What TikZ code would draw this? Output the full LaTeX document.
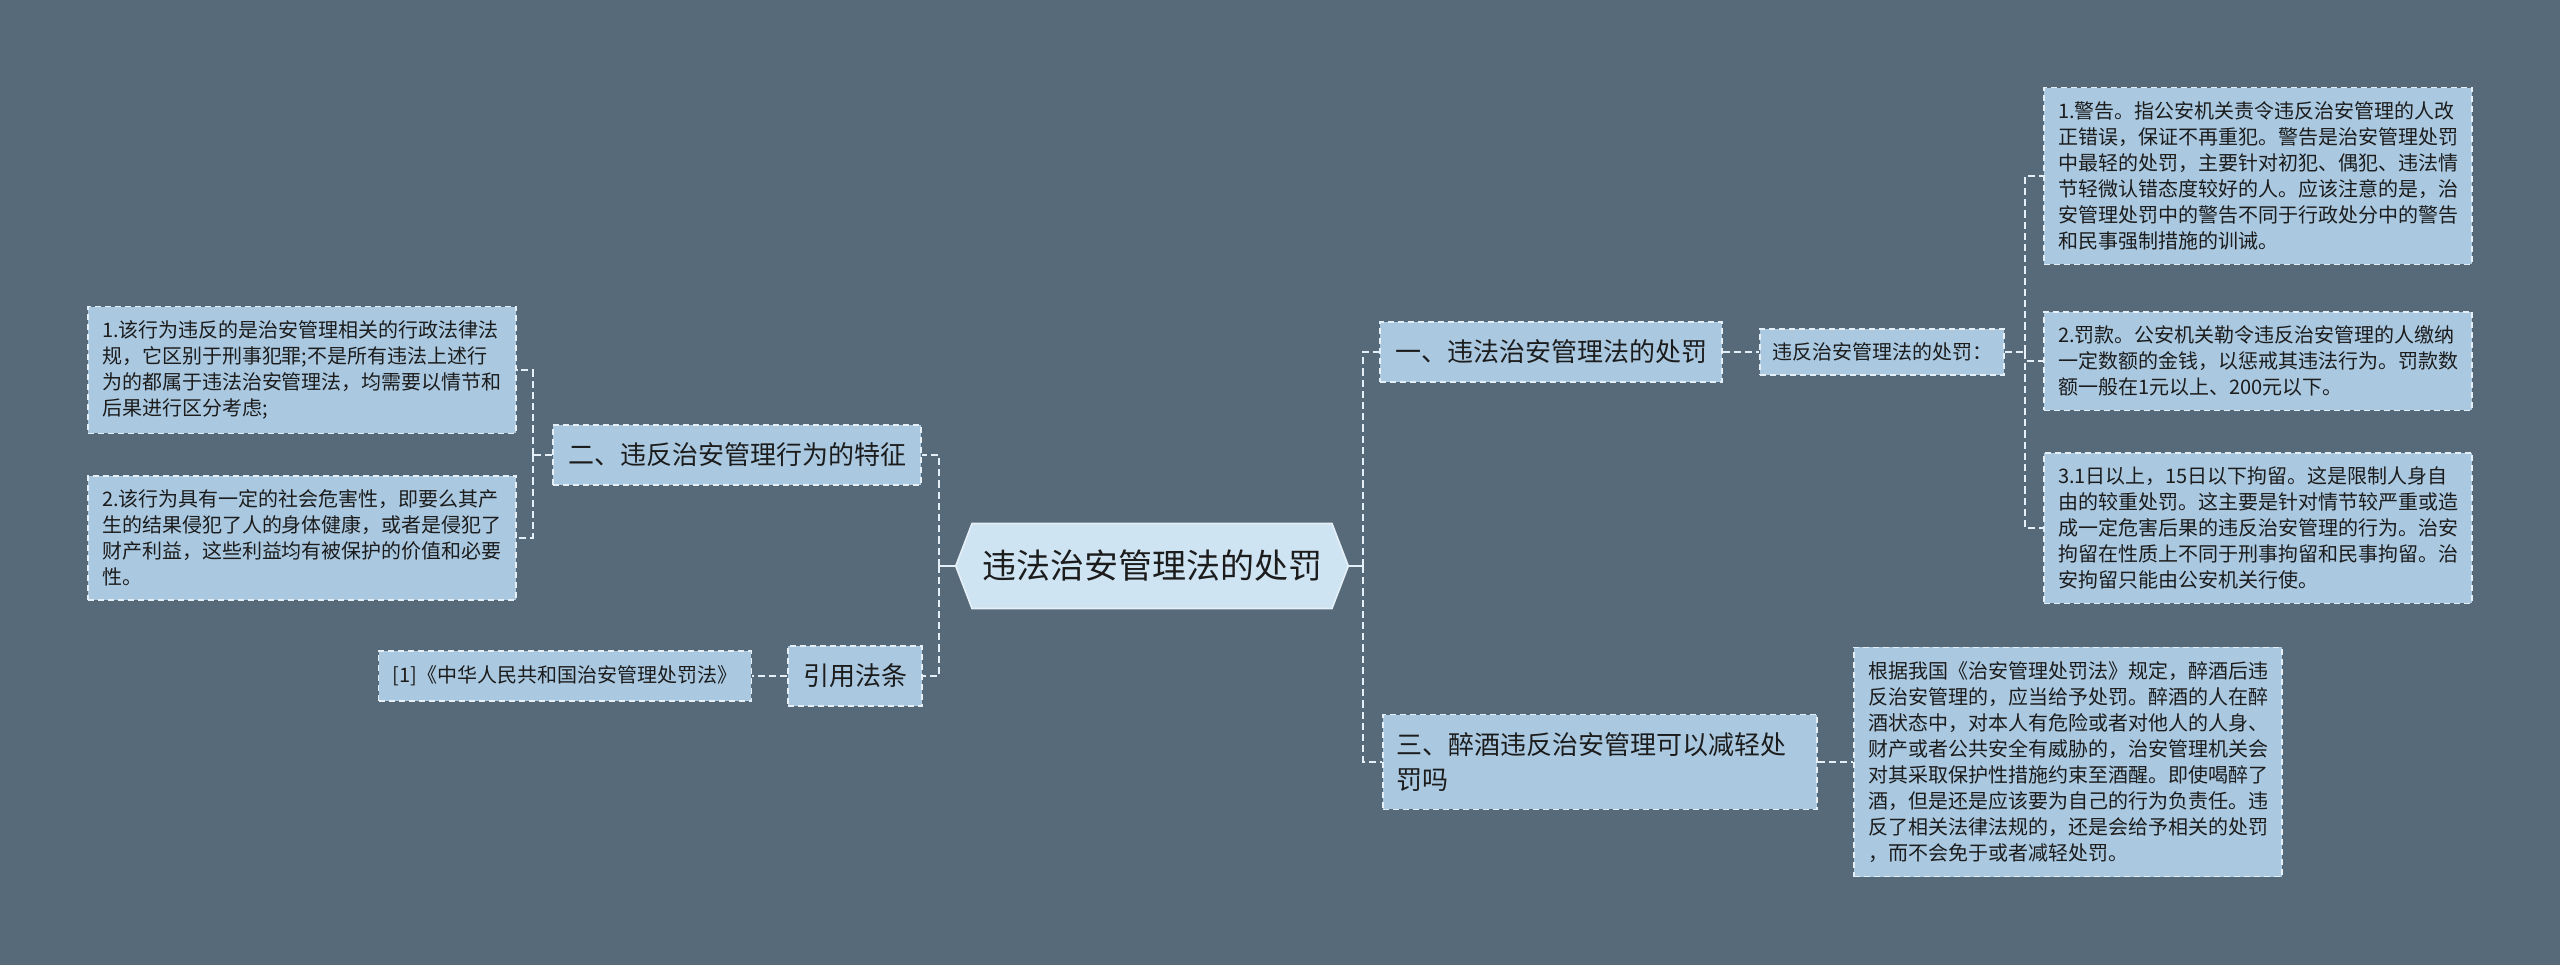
\documentclass[tikz,border=0pt]{standalone}
\usepackage{fontspec}
\newfontfamily\cjk{Noto Sans CJK SC}
\usetikzlibrary{shapes.symbols}
\definecolor{bgSlate}{RGB}{86,106,121}
\definecolor{boxBlue}{RGB}{170,201,225}
\definecolor{rootBlue}{RGB}{207,228,242}
\definecolor{lineWhite}{RGB}{228,239,247}
\definecolor{inkDark}{RGB}{28,28,28}

\begin{document}
\begin{tikzpicture}
[x=0.5pt,y=-0.5pt,
  rootDecorate/.style={shape=signal,signal to=east and west,signal pointer angle=138,
    fill=rootBlue,draw=lineWhite,line width=0.8pt,text=inkDark,
    font=\cjk\fontsize{17pt}{20pt}\selectfont,minimum height=42.5pt,inner xsep=5pt},
  topicDecorate/.style={shape=rectangle,fill=boxBlue,draw=lineWhite,line width=0.8pt,
    dash pattern=on 3pt off 2pt,text=inkDark,font=\cjk\fontsize{13pt}{17.5pt}\selectfont,
    inner xsep=7.5pt,inner ysep=9pt,align=left},
  leafDecorate/.style={topicDecorate,font=\cjk\fontsize{10pt}{13pt}\selectfont,
    inner xsep=7pt,inner ysep=7pt},
  lineDecorate/.style={-,draw=lineWhite,line width=1.1pt,dash pattern=on 3.6pt off 2pt},
  elbowDecorate/.style={lineDecorate,to path={|- (\tikztotarget)}},
  trunkDecorate/.style={-,draw=lineWhite,line width=1.1pt}]
%% background
\fill[bgSlate] (0,0) rectangle (2560,965);
%% nodes
\node (root) at (1152,566) [rootDecorate] {违法治安管理法的处罚};
\node (topicOne) at (1551,352) [topicDecorate] {一、违法治安管理法的处罚};
\node (subOne) at (1882,352) [leafDecorate,inner xsep=6pt] {违反治安管理法的处罚：};
\node (leafOne) at (2258,176) [leafDecorate] {1.警告。指公安机关责令违反治安管理的人改\\正错误，保证不再重犯。警告是治安管理处罚\\中最轻的处罚，主要针对初犯、偶犯、违法情\\节轻微认错态度较好的人。应该注意的是，治\\安管理处罚中的警告不同于行政处分中的警告\\和民事强制措施的训诫。};
\node (leafTwo) at (2258,361) [leafDecorate] {2.罚款。公安机关勒令违反治安管理的人缴纳\\一定数额的金钱，以惩戒其违法行为。罚款数\\额一般在1元以上、200元以下。};
\node (leafThree) at (2258,528) [leafDecorate] {3.1日以上，15日以下拘留。这是限制人身自\\由的较重处罚。这主要是针对情节较严重或造\\成一定危害后果的违反治安管理的行为。治安\\拘留在性质上不同于刑事拘留和民事拘留。治\\安拘留只能由公安机关行使。};
\node (topicThree) at (1600,762) [topicDecorate,text width=204pt,inner xsep=6.5pt] {三、醉酒违反治安管理可以减轻处\\罚吗};
\node (leafFour) at (2068,762) [leafDecorate] {根据我国《治安管理处罚法》规定，醉酒后违\\反治安管理的，应当给予处罚。醉酒的人在醉\\酒状态中，对本人有危险或者对他人的人身、\\财产或者公共安全有威胁的，治安管理机关会\\对其采取保护性措施约束至酒醒。即使喝醉了\\酒，但是还是应该要为自己的行为负责任。违\\反了相关法律法规的，还是会给予相关的处罚\\，而不会免于或者减轻处罚。};
\node (topicTwo) at (737,455) [topicDecorate] {二、违反治安管理行为的特征};
\node (leafLeftOne) at (302,370) [leafDecorate] {1.该行为违反的是治安管理相关的行政法律法\\规，它区别于刑事犯罪;不是所有违法上述行\\为的都属于违法治安管理法，均需要以情节和\\后果进行区分考虑;};
\node (leafLeftTwo) at (302,538) [leafDecorate] {2.该行为具有一定的社会危害性，即要么其产\\生的结果侵犯了人的身体健康，或者是侵犯了\\财产利益，这些利益均有被保护的价值和必要\\性。};
\node (topicRef) at (855,676) [topicDecorate] {引用法条};
\node (leafRef) at (565,676) [leafDecorate,inner ysep=7.5pt] {[1]《中华人民共和国治安管理处罚法》};
%% junctions
\coordinate (joinRight) at (1363,566);
\coordinate (joinLeft) at (939,566);
\coordinate (joinSub) at (2025,352);
\coordinate (joinLeftSub) at (533,455);
%% edges or lines
\path (root.east) edge[trunkDecorate] (joinRight)
      (root.west) edge[trunkDecorate] (joinLeft);
\path
\foreach \startnode/\endnode in {joinRight/topicOne.west, joinRight/topicThree.west,
  joinLeft/topicTwo.east, joinLeft/topicRef.east, joinSub/leafOne.west,
  joinSub/leafTwo.west, joinSub/leafThree.west, joinLeftSub/leafLeftOne.east,
  joinLeftSub/leafLeftTwo.east}
{
  (\startnode) edge[elbowDecorate] (\endnode)
};
\path
\foreach \startnode/\endnode in {topicOne.east/subOne.west, subOne.east/joinSub,
  topicThree.east/leafFour.west, topicTwo.west/joinLeftSub, topicRef.west/leafRef.east}
{
  (\startnode) edge[lineDecorate] (\endnode)
};
\end{tikzpicture}
\end{document}
